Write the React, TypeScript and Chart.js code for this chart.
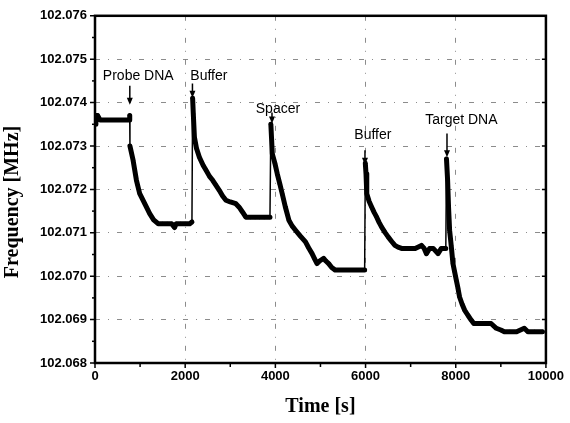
import React, { useEffect, useRef } from 'react';
import { Chart, registerables } from 'chart.js';

Chart.register(...registerables);

// Time [s]
const times = [
  0, 20, 60, 110, 200, 300, 400, 500, 600, 700, 760, 770,
  775, 845, 919, 992, 1103, 1213, 1300, 1400, 1500, 1600, 1700, 1764, 1800, 1900, 2000, 2100, 2150,
  2165, 2180, 2205, 2250, 2315, 2400, 2463, 2540, 2610, 2680, 2756, 2830, 2904, 3000, 3124, 3197, 3270, 3345, 3450, 3550, 3650, 3750, 3880,
  3900, 3932, 3990, 4042, 4100, 4152, 4220, 4300, 4370, 4447, 4550, 4668, 4740, 4814, 4870, 4924, 4980, 5071, 5120, 5182, 5250, 5329, 5450, 5600, 5750, 5900, 5980,
  5995, 6010, 6027, 6080, 6137, 6190, 6247, 6300, 6357, 6430, 6505, 6580, 6652, 6720, 6799, 6900, 7000, 7100, 7240, 7300, 7350, 7420, 7500, 7607, 7680, 7780,
  7795, 7820, 7840, 7864, 7900, 7938, 7975, 8012, 8050, 8085, 8140, 8196, 8270, 8342, 8400, 8500, 8600, 8700, 8783, 8900, 9000, 9078, 9200, 9350, 9520, 9600, 9750, 9923,
];

// Frequency [MHz]
const freqs = [
  102.0735, 102.0737, 102.0737, 102.0736, 102.0736, 102.0736, 102.0736, 102.0736, 102.0736, 102.0736, 102.0736, 102.0737,
  102.0730, 102.07267, 102.07221, 102.0719, 102.07167, 102.07144, 102.0713, 102.07121, 102.07121, 102.07121, 102.07121, 102.07112, 102.07121, 102.07121, 102.07121, 102.07121, 102.07125,
  102.0741, 102.07374, 102.0732, 102.07295, 102.07274, 102.07255, 102.07244, 102.0723, 102.07221, 102.0721, 102.07198, 102.07185, 102.07175, 102.07171, 102.07167, 102.07159, 102.07148, 102.07136, 102.07136, 102.07136, 102.07136, 102.07136, 102.07136,
  102.0735, 102.07282, 102.0726, 102.07236, 102.07212, 102.0719, 102.0716, 102.07129, 102.07116, 102.07106, 102.07093, 102.07079, 102.07065, 102.07052, 102.0704, 102.07029, 102.07035, 102.07041, 102.07035, 102.07029, 102.0702, 102.07014, 102.07014, 102.07014, 102.07014, 102.07014, 102.07014,
  102.0726, 102.07236, 102.0719, 102.07172, 102.07159, 102.07147, 102.07136, 102.07124, 102.07113, 102.07101, 102.0709, 102.0708, 102.07071, 102.07067, 102.07064, 102.07064, 102.07064, 102.07064, 102.07071, 102.07064, 102.07052, 102.07064, 102.07064, 102.07052, 102.07064, 102.07064,
  102.0727, 102.0722, 102.0716, 102.07106, 102.0707, 102.07029, 102.0701, 102.06991, 102.06972, 102.06952, 102.06936, 102.06922, 102.0691, 102.06899, 102.06891, 102.06891, 102.06891, 102.06891, 102.06891, 102.0688, 102.06876, 102.06872, 102.06872, 102.06872, 102.0688, 102.06872, 102.06872, 102.06872,
];

// Injection annotations
const annotLabels = ['Probe DNA', 'Buffer', 'Spacer', 'Buffer', 'Target DNA'];
const annotLabelX = [959, 2525, 4057, 6163, 8125];
const annotLabelY = [102.0746, 102.0746, 102.07386, 102.07324, 102.07359];
const arrowX = [772, 2161, 3925, 5987, 7806];
const arrowTop = [102.07439, 102.07444, 102.07377, 102.0729, 102.07329];
const arrowTip = [102.07395, 102.07411, 102.07352, 102.07257, 102.07274];

const xTitle = 'Time [s]';
const yTitle = 'Frequency [MHz]';

const SANS = '"Liberation Sans", Arial, sans-serif';
const SERIF = '"Liberation Serif", "Times New Roman", serif';

const decorPlugin = {
  id: 'decor',
  afterDatasetsDraw(chart: any) {
    const { ctx, chartArea: a, scales } = chart;
    const x = scales.x;
    const y = scales.y;
    ctx.save();
    ctx.fillStyle = '#000';
    ctx.strokeStyle = '#000';

    // annotations
    ctx.font = '14px ' + SANS;
    ctx.textAlign = 'center';
    ctx.textBaseline = 'middle';
    annotLabels.forEach((t, i) => {
      ctx.fillText(t, x.getPixelForValue(annotLabelX[i]), y.getPixelForValue(annotLabelY[i]));
      const ax = x.getPixelForValue(arrowX[i]);
      const y0 = y.getPixelForValue(arrowTop[i]);
      const y1 = y.getPixelForValue(arrowTip[i]);
      ctx.lineWidth = 1.5;
      ctx.beginPath();
      ctx.moveTo(ax, y0);
      ctx.lineTo(ax, y1 - 5);
      ctx.stroke();
      ctx.beginPath();
      ctx.moveTo(ax - 3, y1 - 7);
      ctx.lineTo(ax + 3, y1 - 7);
      ctx.lineTo(ax, y1);
      ctx.closePath();
      ctx.fill();
    });

    // frame
    ctx.lineWidth = 2.5;
    ctx.strokeRect(a.left, a.top, a.right - a.left, a.bottom - a.top);

    // ticks
    ctx.lineWidth = 1.5;
    const yt = y.ticks.map((t: any) => t.value);
    yt.forEach((v: number, i: number) => {
      const p = y.getPixelForValue(v);
      ctx.beginPath();
      ctx.moveTo(a.left - 5, p); ctx.lineTo(a.left, p);
      ctx.moveTo(a.right - 4, p); ctx.lineTo(a.right, p);
      ctx.stroke();
      if (i < yt.length - 1) {
        const m = y.getPixelForValue((v + yt[i + 1]) / 2);
        ctx.beginPath();
        ctx.moveTo(a.left - 3, m); ctx.lineTo(a.left, m);
        ctx.stroke();
      }
    });
    const xt = x.ticks.map((t: any) => t.value);
    xt.forEach((v: number, i: number) => {
      const p = x.getPixelForValue(v);
      ctx.beginPath();
      ctx.moveTo(p, a.bottom); ctx.lineTo(p, a.bottom + 5);
      ctx.stroke();
      if (i < xt.length - 1) {
        const m = x.getPixelForValue((v + xt[i + 1]) / 2);
        ctx.beginPath();
        ctx.moveTo(m, a.bottom); ctx.lineTo(m, a.bottom + 4);
        ctx.stroke();
      }
    });

    // y title
    ctx.translate(13, 202);
    ctx.rotate(-Math.PI / 2);
    ctx.font = 'bold 20px ' + SERIF;
    ctx.textAlign = 'center';
    ctx.textBaseline = 'middle';
    ctx.fillText(yTitle, 0, 0);
    ctx.restore();
  },
};

export default function App() {
  const ref = useRef<HTMLCanvasElement | null>(null);

  useEffect(() => {
    if (!ref.current) return;
    const points = times.map((t, i) => ({ x: t, y: freqs[i] }));
    const chart = new Chart(ref.current, {
      type: 'line',
      data: {
        datasets: [
          {
            data: points,
            borderColor: '#000',
            backgroundColor: '#000',
            borderWidth: 5,
            borderJoinStyle: 'round',
            borderCapStyle: 'round',
            pointRadius: 2,
            pointBorderWidth: 0,
            pointBackgroundColor: '#000',
            tension: 0,
            segment: {
              borderWidth: (c: any) => {
                const dx = c.p1.parsed.x - c.p0.parsed.x;
                const dy = c.p1.parsed.y - c.p0.parsed.y;
                return dy > 0.0003 || (dx < 10 && Math.abs(dy) > 0.0003) ? 1.5 : 5;
              },
            },
          },
        ],
      },
      options: {
        responsive: false,
        animation: false,
        devicePixelRatio: 1,
        layout: { padding: { left: 0, right: 21, top: 15, bottom: 0 } },
        plugins: {
          legend: { display: false },
          tooltip: { enabled: false },
        },
        scales: {
          x: {
            type: 'linear',
            min: 0,
            max: 10000,
            ticks: {
              stepSize: 2000,
              color: '#000',
              font: { family: SANS, size: 13, weight: 'bold' },
              padding: 6,
              maxRotation: 0,
              callback: (v: any) => String(Math.round(Number(v))),
            },
            grid: {
              color: 'rgba(0,0,0,0.45)',
              lineWidth: 1,
              drawTicks: false,
            },
            border: { display: false, dash: [5, 8, 1, 8] },
            title: {
              display: true,
              text: xTitle,
              color: '#000',
              font: { family: SERIF, size: 20, weight: 'bold' },
              padding: { top: 0, bottom: 4 },
            },
            afterFit: (s: any) => {
              s.height = 60;
            },
          },
          y: {
            type: 'linear',
            min: 102.068,
            max: 102.076,
            ticks: {
              stepSize: 0.001,
              color: '#000',
              font: { family: SANS, size: 13, weight: 'bold' },
              padding: 8,
              callback: (v: any) => Number(v).toFixed(3),
            },
            grid: {
              color: 'rgba(0,0,0,0.45)',
              lineWidth: 1,
              drawTicks: false,
            },
            border: { display: false, dash: [5, 8, 1, 8] },
            afterFit: (s: any) => {
              s.width = 95;
            },
          },
        },
      },
      plugins: [decorPlugin],
    } as any);
    return () => chart.destroy();
  }, []);

  return (
    <div style={{ position: 'absolute', left: 0, top: 0, width: 570, height: 423, background: '#fff' }}>
      <canvas ref={ref} width={570} height={423} />
    </div>
  );
}
